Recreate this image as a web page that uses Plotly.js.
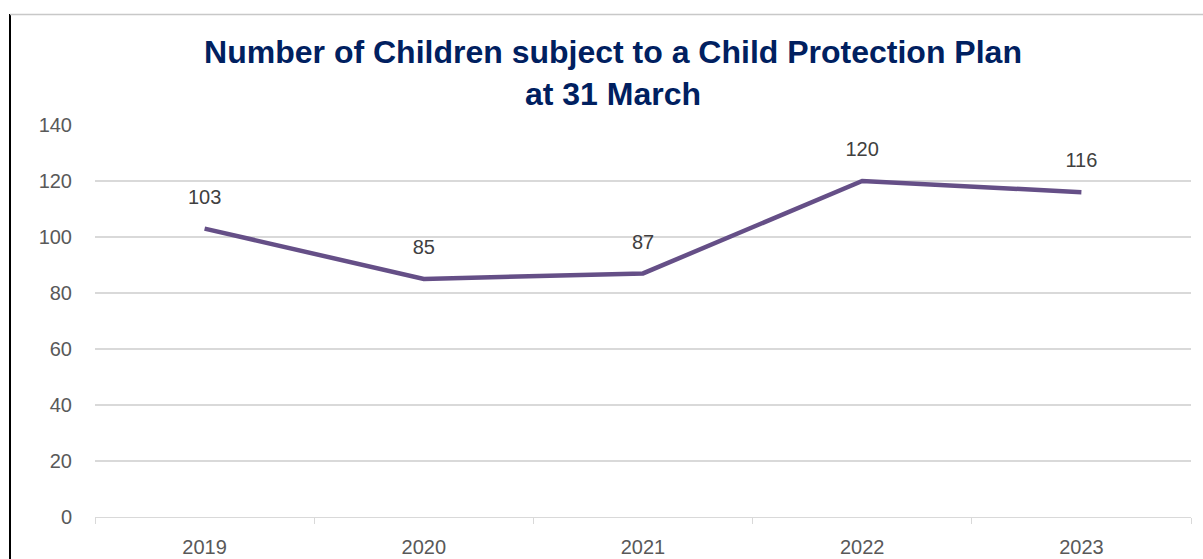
<!DOCTYPE html>
<html>
<head>
<meta charset="utf-8">
<script src="https://cdn.plot.ly/plotly-3.0.1.min.js"></script>
<style>html,body{margin:0;padding:0;background:#fff;}#chart{width:1203px;height:559px;}</style>
</head>
<body>
<div id="chart"></div>
<script>
const years = ["2019", "2020", "2021", "2022", "2023"];
const children = [103, 85, 87, 120, 116];
const yTicks = [0, 20, 40, 60, 80, 100, 120, 140];

const L = 95, R = 12, T = 125, B = 42, W = 1203, H = 559;
const pw = W - L - R, ph = H - T - B;
const px = v => (v - L) / pw;
const py = v => (H - B - v) / ph;
const FONT = 'Liberation Sans, Arial, sans-serif';

const lineTrace = {
  x: years, y: children, type: 'scatter', mode: 'lines',
  line: {color: '#654f87', width: 4.5},
  hoverinfo: 'skip'
};

const labelTrace = {
  x: years, y: children, type: 'scatter', mode: 'markers+text',
  text: children.map(String), textposition: 'top center',
  textfont: {family: FONT, size: 20, color: '#404040'},
  marker: {size: 30, opacity: 0, color: '#ffffff'},
  cliponaxis: false, hoverinfo: 'skip'
};

const layout = {
  width: W, height: H,
  margin: {l: L, r: R, t: T, b: B, pad: 0},
  paper_bgcolor: '#ffffff', plot_bgcolor: '#ffffff',
  showlegend: false,
  title: {
    text: '<b>Number of Children subject to a Child Protection Plan<br>at 31 March</b>',
    x: px(613), xanchor: 'center', xref: 'paper',
    y: 1 - 63 / H, yanchor: 'top', yref: 'container',
    font: {family: FONT, size: 32, color: '#002060'}
  },
  xaxis: {
    type: 'category', categoryorder: 'array', categoryarray: years,
    range: [-0.5, 4.5], tickson: 'boundaries',
    ticks: 'outside', ticklen: 6, tickcolor: '#d9d9d9', tickwidth: 1,
    showline: true, linecolor: '#d9d9d9', linewidth: 1,
    showgrid: false, zeroline: false,
    tickfont: {family: FONT, size: 20, color: '#595959'},
    ticklabelstandoff: 12
  },
  yaxis: {
    range: [0, 140], tickvals: yTicks, ticktext: yTicks.map(String),
    showgrid: true, gridcolor: '#d9d9d9', gridwidth: 1.5,
    zeroline: false, showline: false, ticks: '',
    tickfont: {family: FONT, size: 20, color: '#595959'},
    ticklabelstandoff: 22
  },
  shapes: [
    {type: 'line', xref: 'paper', yref: 'paper', x0: px(10), x1: px(10), y0: py(14), y1: py(562), line: {color: '#000000', width: 2}},
    {type: 'line', xref: 'paper', yref: 'paper', x0: px(10), x1: px(1205), y0: py(14.5), y1: py(14.5), line: {color: '#c8c8c8', width: 1.5}}
  ]
};

Plotly.newPlot('chart', [lineTrace, labelTrace], layout, {displayModeBar: false, staticPlot: true});
</script>
</body>
</html>
